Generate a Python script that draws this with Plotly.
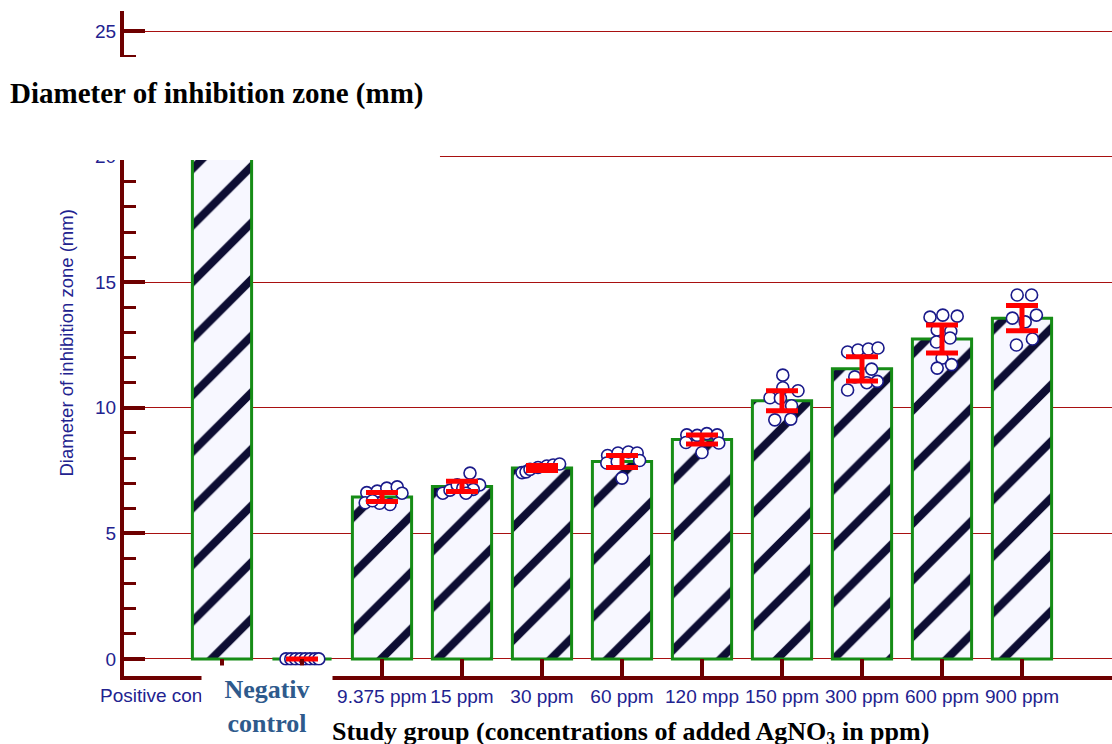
import plotly.graph_objects as go

# Study groups along the x axis
groups = ["Positive control", "Negative control", "9.375 ppm", "15 ppm", "30 ppm",
          "60 ppm", "120 mpp", "150 ppm", "300 ppm", "600 ppm", "900 ppm"]

# Mean inhibition-zone diameter (mm) and error half-widths per group
mean_mm = [20.85, 0.0, 6.45, 6.87, 7.60, 7.86, 8.74, 10.28, 11.55, 12.74, 13.57]
err_mm = [0.50, 0.0, 0.18, 0.20, 0.10, 0.24, 0.18, 0.40, 0.48, 0.56, 0.50]

# Individual replicate measurements (mm) for each group
rep_pos = [20.2, 20.25, 20.6, 21.0, 21.4, 21.65]
rep_neg = [0, 0, 0, 0, 0, 0, 0, 0]
rep_9375 = [6.62, 6.22, 6.68, 6.80, 6.85, 6.60, 6.15, 6.20, 6.30]
rep_15 = [6.60, 6.72, 6.93, 7.40, 6.93, 6.80, 6.75, 6.60]
rep_30 = [7.42, 7.45, 7.55, 7.62, 7.68, 7.72, 7.76]
rep_60 = [8.10, 8.20, 8.24, 8.20, 7.80, 7.85, 7.90, 7.20]
rep_120 = [8.92, 8.90, 8.97, 8.92, 8.62, 8.60, 8.22]
rep_150 = [11.30, 10.40, 10.80, 10.68, 10.38, 10.08, 9.52, 9.55]
rep_300 = [12.22, 12.30, 12.34, 12.38, 11.54, 11.23, 11.00, 10.71, 11.05]
rep_600 = [13.61, 13.69, 13.65, 13.10, 13.05, 12.62, 12.78, 11.98, 11.58, 11.72]
rep_900 = [14.49, 14.49, 13.57, 13.69, 13.42, 12.74, 12.50]

# Horizontal spread of the replicate dots around each bar (category units)
jit_pos = [-0.10, 0.02, -0.05, 0.06, -0.02, 0.08]
jit_neg = [-0.20, -0.14, -0.08, -0.02, 0.04, 0.10, 0.16, 0.21]
jit_9375 = [-0.19, -0.21, -0.06, 0.06, 0.19, 0.25, 0.10, -0.03, -0.12]
jit_15 = [-0.24, -0.15, -0.06, 0.10, 0.22, 0.01, 0.14, 0.05]
jit_30 = [-0.25, -0.20, -0.15, -0.05, 0.06, 0.14, 0.22]
jit_60 = [-0.18, -0.05, 0.08, 0.19, -0.19, -0.06, 0.22, 0.0]
jit_120 = [-0.19, -0.06, 0.06, 0.19, -0.20, 0.21, 0.0]
jit_150 = [0.01, -0.15, 0.01, 0.20, -0.02, 0.12, -0.09, 0.11]
jit_300 = [-0.18, -0.05, 0.08, 0.20, 0.12, -0.09, 0.06, -0.18, 0.19]
jit_600 = [-0.15, 0.01, 0.19, -0.06, 0.11, -0.07, 0.10, 0.0, -0.06, 0.12]
jit_900 = [-0.06, 0.12, -0.12, 0.18, 0.04, 0.13, -0.07]

replicates = [rep_pos, rep_neg, rep_9375, rep_15, rep_30, rep_60, rep_120,
              rep_150, rep_300, rep_600, rep_900]
jitters = [jit_pos, jit_neg, jit_9375, jit_15, jit_30, jit_60, jit_120,
           jit_150, jit_300, jit_600, jit_900]

# Tick text drawn under the bars (the first two groups are labelled separately)
tick_text = [" ", " ", "9.375 ppm", "15 ppm", "30 ppm", "60 ppm", "120 mpp",
             "150 ppm", "300 ppm", "600 ppm", "900 ppm"]

xpos = list(range(len(groups)))

dot_x, dot_y = [], []
for i, (vals, offs) in enumerate(zip(replicates, jitters)):
    for v, o in zip(vals, offs):
        dot_x.append(i + o)
        dot_y.append(v)

MAROON = "#6e0000"
NAVY = "#22228f"
TICK_FONT = dict(family="Liberation Sans, Arial", size=19, color=NAVY)

fig = go.Figure()

fig.add_trace(go.Bar(
    x=xpos, y=mean_mm, width=0.74,
    marker=dict(
        color="#f7f7ff",
        line=dict(color="#168c16", width=3),
        pattern=dict(shape="/", fgcolor="#0d0d33", bgcolor="#f7f7ff",
                     fgopacity=1, size=40, solidity=0.2),
    ),
    hoverinfo="skip", showlegend=False,
))

fig.add_trace(go.Scatter(
    x=dot_x, y=dot_y, mode="markers",
    marker=dict(symbol="circle", size=12, color="white",
                line=dict(color="#1a1a8a", width=1.6)),
    showlegend=False, hoverinfo="skip",
))

fig.add_trace(go.Scatter(
    x=xpos, y=mean_mm, mode="markers",
    marker=dict(size=1, color="rgba(0,0,0,0)"),
    error_y=dict(type="data", array=err_mm, visible=True,
                 color="#ff0000", thickness=5, width=16),
    showlegend=False, hoverinfo="skip",
))

fig.update_layout(
    width=1112, height=744,
    margin=dict(l=124, r=0, t=11, b=68),
    paper_bgcolor="white", plot_bgcolor="white",
    xaxis=dict(
        range=[-1.225, 11.125], automargin=False,
        tickmode="array", tickvals=xpos, ticktext=tick_text, tickangle=0,
        ticks="inside", ticklen=17, tickwidth=4, tickcolor=MAROON,
        showline=True, linecolor=MAROON, linewidth=4,
        showgrid=False, zeroline=False,
        tickfont=TICK_FONT,
    ),
    yaxis=dict(
        range=[-0.68, 25.8], automargin=False,
        tickmode="linear", tick0=0, dtick=5,
        ticks="inside", ticklen=21, tickwidth=4, tickcolor=MAROON,
        minor=dict(dtick=1, ticks="inside", ticklen=12, tickwidth=3,
                   tickcolor=MAROON, showgrid=False),
        showline=True, linecolor=MAROON, linewidth=4,
        showgrid=True, gridcolor="#a81010", gridwidth=1.3,
        zeroline=False,
        tickfont=TICK_FONT,
    ),
)

# White panel holding the chart heading above the 20 mm line
fig.add_shape(type="rect", xref="paper", yref="paper",
              x0=-0.13, x1=0.3198, y0=0.776, y1=0.9308,
              fillcolor="white", line=dict(width=0), layer="above")

annotations = [
    dict(text="Diameter of inhibition zone (mm)", xref="paper", yref="paper",
         x=0, xshift=-116, xanchor="left", y=0.8752, yanchor="middle",
         showarrow=False,
         font=dict(family="Liberation Serif, Times New Roman", size=29,
                   color="black", weight="bold")),
    dict(text="Diameter of inhibition zone (mm)", xref="paper", yref="paper",
         x=0, xshift=-58, xanchor="center", y=0.5, yanchor="middle",
         textangle=-90, showarrow=False,
         font=dict(family="Liberation Sans, Arial", size=18.5, color=NAVY)),
    dict(text="Positive control", xref="x", yref="paper",
         x=0, xshift=-124, xanchor="left", y=-0.0293, yanchor="middle",
         showarrow=False, font=TICK_FONT),
    dict(text="Negativ<br>control", xref="paper", yref="paper",
         x=(267 - 124) / 988, xanchor="center", y=-0.0414, yanchor="middle",
         yshift=-3, width=130, height=81, bgcolor="white", borderpad=0,
         showarrow=False, align="center", valign="middle",
         font=dict(family="Liberation Serif, Times New Roman", size=26,
                   color="#2e5a8c", weight="bold")),
    dict(text="Study group (concentrations of added AgNO<sub>3</sub> in ppm)",
         xref="paper", yref="paper",
         x=(330 - 124) / 988, xanchor="left", y=-0.0827, yanchor="middle",
         yshift=-2, showarrow=False,
         font=dict(family="Liberation Serif, Times New Roman", size=26,
                   color="black", weight="bold")),
]
fig.update_layout(annotations=annotations)

fig.write_html("out.html")
